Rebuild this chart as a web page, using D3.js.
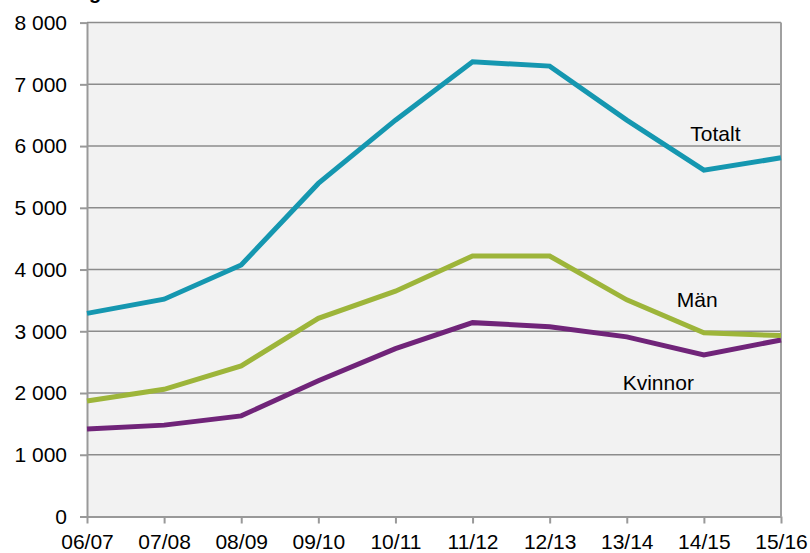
<!DOCTYPE html>
<html><head><meta charset="utf-8">
<script src="https://cdn.jsdelivr.net/npm/d3@7"></script>
<style>
html,body{margin:0;padding:0;background:#fff;}
svg{display:block;font-family:"Liberation Sans",Arial,sans-serif;}
</style></head>
<body><svg id="c" width="810" height="553"></svg>
<script>
const categories = ["06/07","07/08","08/09","09/10","10/11","11/12","12/13","13/14","14/15","15/16"];
const totalt  = [3290,3520,4075,5395,6420,7365,7295,6420,5610,5810];
const man     = [1870,2060,2440,3210,3650,4220,4220,3510,2975,2930];
const kvinnor = [1417,1480,1630,2200,2720,3140,3075,2910,2615,2860];
const yTicks  = [0,1000,2000,3000,4000,5000,6000,7000,8000];
const seriesNames = ["Totalt","Män","Kvinnor"];
const labelValues = [6080,3400,2050];
const title = "Utveckling";

const svg = d3.select("#c");
const L=87, R=781, T=22.6, B=516.5;
const FS = 21;
const x = d3.scalePoint().domain(categories).range([L,R]);
const y = d3.scaleLinear().domain([0,8000]).range([B,T]);
const loc = d3.formatLocale({thousands:"\u00a0",grouping:[3],decimal:",",currency:["",""]});
const fmt = loc.format(",");

// title (cut off at top)
svg.append("text").attr("x",0).attr("y",-1).attr("font-weight","bold")
  .attr("font-size",20).attr("fill","#000").text(title);

// plot background
svg.append("rect").attr("x",L).attr("y",T).attr("width",R-L).attr("height",B-T).attr("fill","#f2f2f2");

// gridlines
svg.append("g").selectAll("line").data(yTicks.filter(d=>d>0)).join("line")
  .attr("x1",L).attr("x2",R).attr("y1",d=>y(d)).attr("y2",d=>y(d))
  .attr("stroke","#8c8c8c").attr("stroke-width",1.5);

// right border
svg.append("line").attr("x1",R).attr("x2",R).attr("y1",T).attr("y2",B)
  .attr("stroke","#a0a0a0").attr("stroke-width",2);

// y axis
const ya = svg.append("g").attr("transform",`translate(${L},0)`)
  .call(d3.axisLeft(y).tickValues(yTicks).tickFormat(fmt).tickSize(7).tickSizeOuter(0).tickPadding(13));
ya.select(".domain").attr("stroke","#999").attr("stroke-width",2);
ya.selectAll(".tick line").attr("stroke","#999").attr("stroke-width",2);
ya.selectAll("text").attr("font-size",FS).attr("fill","#000").attr("font-family","Liberation Sans, Arial, sans-serif");

// x axis
const xa = svg.append("g").attr("transform",`translate(0,${B})`)
  .call(d3.axisBottom(x).tickSize(7).tickSizeOuter(0).tickPadding(11));
xa.select(".domain").attr("stroke","#999").attr("stroke-width",2);
xa.selectAll(".tick line").attr("stroke","#999").attr("stroke-width",2);
xa.selectAll("text").attr("font-size",FS).attr("fill","#000").attr("font-family","Liberation Sans, Arial, sans-serif");

// lines
const line = d3.line().x((d,i)=>x(categories[i])).y(d=>y(d));
const series = [
  {name:seriesNames[0], values:totalt, color:"#1597b0"},
  {name:seriesNames[1], values:man, color:"#9db53a"},
  {name:seriesNames[2], values:kvinnor, color:"#702479"}
];
svg.append("g").selectAll("path").data(series.slice().reverse()).join("path")
  .attr("d",d=>line(d.values)).attr("fill","none").attr("stroke",d=>d.color)
  .attr("stroke-width",5).attr("stroke-linejoin","miter");

// labels
const labelPos = [
  {name:seriesNames[0], cx:x("14/15")+11.5, val:labelValues[0]},
  {name:seriesNames[1], cx:x("13/14")+70.5, val:labelValues[1]},
  {name:seriesNames[2], cx:x("13/14")+31.5, val:labelValues[2]}
];
svg.append("g").selectAll("text").data(labelPos).join("text")
  .attr("x",d=>d.cx).attr("y",d=>y(d.val)).attr("text-anchor","middle")
  .attr("font-size",FS).attr("fill","#000").text(d=>d.name);
</script></body></html>
